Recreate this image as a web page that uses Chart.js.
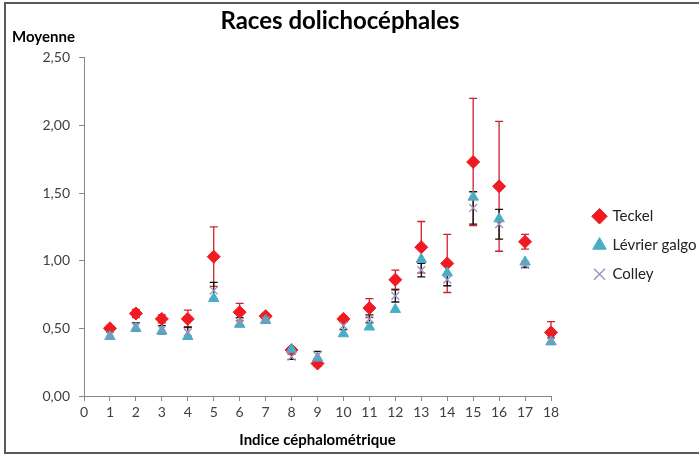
<!DOCTYPE html>
<html>
<head>
<meta charset="utf-8">
<script src="https://cdn.jsdelivr.net/npm/chart.js@4.4.1/dist/chart.umd.min.js"></script>
<style>
  html, body { margin: 0; background: #fff; }
</style>
</head>
<body>
<canvas id="chart" width="699" height="455"></canvas>
<script>
// Indices céphalométriques (axe X)
const indices = [1, 2, 3, 4, 5, 6, 7, 8, 9, 10, 11, 12, 13, 14, 15, 16, 17, 18];

// Moyennes par race
const teckel = [0.50, 0.61, 0.57, 0.57, 1.03, 0.62, 0.59, 0.34, 0.24, 0.57, 0.65, 0.86, 1.10, 0.98, 1.73, 1.55, 1.14, 0.47];
const levrierGalgo = [0.44, 0.50, 0.48, 0.44, 0.72, 0.53, 0.56, 0.345, 0.28, 0.46, 0.51, 0.64, 1.01, 0.91, 1.47, 1.31, 0.99, 0.40];
const colley = [0.45, 0.51, 0.49, 0.47, 0.78, 0.55, 0.56, 0.29, 0.30, 0.52, 0.57, 0.74, 0.93, 0.86, 1.39, 1.27, 0.97, 0.41];

// Barres d'erreur (+/-)
const teckelErr = [0.02, 0.03, 0.03, 0.065, 0.22, 0.065, 0.02, 0.02, 0.02, 0.02, 0.07, 0.07, 0.19, 0.215, 0.47, 0.48, 0.055, 0.08];
const colleyErr = [0.02, 0.03, 0.03, 0.04, 0.06, 0.03, 0.02, 0.02, 0.03, 0.03, 0.03, 0.045, 0.05, 0.045, 0.12, 0.11, 0.02, 0.02];

// Graduations
const xTicks = [0, 1, 2, 3, 4, 5, 6, 7, 8, 9, 10, 11, 12, 13, 14, 15, 16, 17, 18];
const yTicks = [0, 0.5, 1, 1.5, 2, 2.5];

const FONT = 'Lato, "Open Sans", sans-serif';

function toPoints(values) {
    return indices.map((x, i) => ({ x: x, y: values[i] }));
}

// Barres d'erreur dessinées via les échelles du graphique
const errorBars = {
    id: 'errorBars',
    beforeDatasetsDraw(chart) {
        const ctx = chart.ctx;
        const x = chart.scales.x;
        const y = chart.scales.y;
        chart.data.datasets.forEach(ds => {
            if (!ds.errors) return;
            ctx.save();
            ctx.strokeStyle = ds.errorColor;
            ctx.lineWidth = 1.3;
            ds.data.forEach((p, i) => {
                const px = x.getPixelForValue(p.x);
                const top = y.getPixelForValue(p.y + ds.errors[i]);
                const bot = y.getPixelForValue(p.y - ds.errors[i]);
                ctx.beginPath();
                ctx.moveTo(px, top);
                ctx.lineTo(px, bot);
                ctx.moveTo(px - 4, top);
                ctx.lineTo(px + 4, top);
                ctx.moveTo(px - 4, bot);
                ctx.lineTo(px + 4, bot);
                ctx.stroke();
            });
            ctx.restore();
        });
    }
};

// Légende : largeur fixe, items décalés vers la droite ; titre un peu à gauche
const layoutTweaks = {
    id: 'layoutTweaks',
    beforeLayout(chart) {
        const lg = chart.legend;
        if (lg && !lg._fixedWidth) {
            const fit = lg.fit;
            lg.fit = function () {
                fit.call(this);
                this.width = 148;
            };
            lg._fixedWidth = true;
        }
    },
    afterLayout(chart) {
        chart.legend.left += 29;
        chart.titleBlock.left -= 19;
    }
};

// Titre de l'axe Y (horizontal) et cadre
const decorations = {
    id: 'decorations',
    afterDraw(chart) {
        const ctx = chart.ctx;
        const area = chart.chartArea;
        ctx.save();
        ctx.fillStyle = '#000';
        ctx.font = 'bold 15px ' + FONT;
        ctx.textBaseline = 'middle';
        ctx.textAlign = 'left';
        ctx.fillText('Moyenne', 12, area.top - 21);

        ctx.strokeStyle = '#5a5a5a';
        ctx.lineWidth = 2;
        ctx.beginPath();
        ctx.moveTo(chart.width, 3);
        ctx.lineTo(5, 3);
        ctx.lineTo(5, 453);
        ctx.lineTo(chart.width, 453);
        ctx.stroke();
        ctx.restore();
    }
};

new Chart(document.getElementById('chart'), {
    type: 'scatter',
    data: {
        datasets: [
            {
                label: 'Teckel',
                data: toPoints(teckel),
                errors: teckelErr,
                errorColor: '#d0202a',
                pointStyle: 'rectRot',
                pointRadius: 6.5,
                pointHoverRadius: 6.5,
                backgroundColor: '#f01a22',
                borderColor: '#f01a22',
                borderWidth: 1,
                clip: false,
                order: 3
            },
            {
                label: 'Lévrier galgo',
                data: toPoints(levrierGalgo),
                pointStyle: 'triangle',
                pointRadius: 6,
                pointHoverRadius: 6,
                backgroundColor: '#4bacc6',
                borderColor: '#4bacc6',
                borderWidth: 1,
                clip: false,
                order: 2
            },
            {
                label: 'Colley',
                data: toPoints(colley),
                errors: colleyErr,
                errorColor: '#111',
                pointStyle: 'crossRot',
                pointRadius: 5.5,
                pointHoverRadius: 5.5,
                backgroundColor: '#9a90b8',
                borderColor: '#9a90b8',
                borderWidth: 1.3,
                clip: false,
                order: 1
            }
        ]
    },
    options: {
        responsive: false,
        animation: false,
        layout: { padding: { left: 0, right: 0, top: 0, bottom: 0 } },
        plugins: {
            title: {
                display: true,
                text: 'Races dolichocéphales',
                color: '#000',
                font: { family: FONT, size: 24, weight: 'bold' },
                padding: { top: 7, bottom: 22 }
            },
            legend: {
                position: 'right',
                title: {
                    display: true,
                    text: ' ',
                    font: { size: 13 },
                    padding: { top: 0, bottom: 20 }
                },
                labels: {
                    usePointStyle: true,
                    boxWidth: 11,
                    boxHeight: 11,
                    padding: 14,
                    color: '#222',
                    font: { family: FONT, size: 15 },
                    sort: (a, b) => a.datasetIndex - b.datasetIndex
                }
            },
            tooltip: { enabled: false }
        },
        scales: {
            x: {
                type: 'linear',
                min: 0,
                max: 18,
                afterBuildTicks: scale => { scale.ticks = xTicks.map(v => ({ value: v })); },
                afterFit: scale => { scale.height = 59; },
                grid: {
                    drawOnChartArea: false,
                    drawTicks: true,
                    tickLength: 5,
                    color: '#868686'
                },
                border: { color: '#868686', width: 1 },
                ticks: {
                    color: '#404040',
                    padding: 3,
                    maxRotation: 0,
                    autoSkip: false,
                    font: { family: FONT, size: 14 }
                },
                title: {
                    display: true,
                    text: 'Indice céphalométrique',
                    color: '#000',
                    font: { family: FONT, size: 15, weight: 'bold' },
                    padding: { top: 0, bottom: 6 }
                }
            },
            y: {
                min: 0,
                max: 2.5,
                afterBuildTicks: scale => { scale.ticks = yTicks.map(v => ({ value: v })); },
                afterFit: scale => { scale.width = 84; },
                grid: {
                    drawOnChartArea: false,
                    drawTicks: true,
                    tickLength: 5,
                    color: '#868686'
                },
                border: { color: '#868686', width: 1 },
                ticks: {
                    color: '#404040',
                    padding: 9,
                    font: { family: FONT, size: 14 },
                    callback: value => value.toFixed(2).replace('.', ',')
                }
            }
        }
    },
    plugins: [errorBars, layoutTweaks, decorations]
});
</script>
</body>
</html>
